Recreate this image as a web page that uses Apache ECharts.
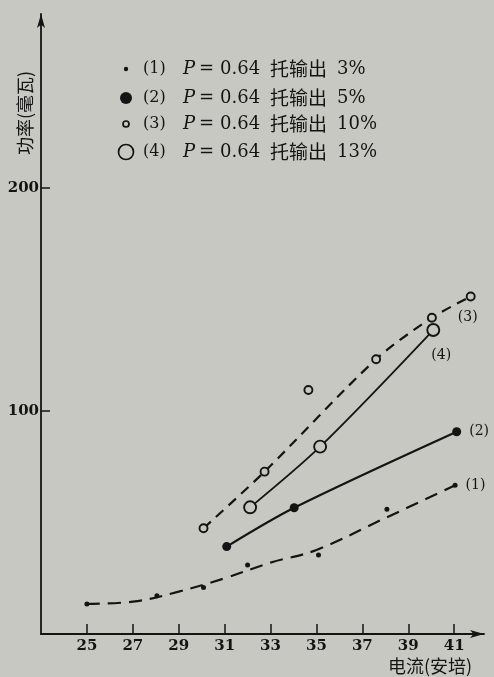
<!DOCTYPE html>
<html><head><meta charset="utf-8">
<script src="https://cdn.jsdelivr.net/npm/echarts@6/dist/echarts.min.js"></script>
<style>html,body{margin:0;padding:0;background:#c8c8c3;}#c{width:494px;height:677px;}</style>
</head><body><div id="c"></div>
<script>
// ---- data ----
const xTicks = [25, 27, 29, 31, 33, 35, 37, 39, 41];
const yTicks = [100, 200];
const xName = '电流(安培)';
const yName = '功率(毫瓦)';
const legendLabels = ['(1)', '(2)', '(3)', '(4)'];
const legendOutputs = ['3%', '5%', '10%', '13%'];

// measured points [current, power]
const pts1 = [[25, 13.5], [28.05, 17.2], [30.08, 20.9], [32.0, 30.9], [35.09, 35.4], [38.07, 55.9], [41.04, 66.7]];
const pts2 = [[31.09, 39.2], [34.03, 56.6], [41.11, 90.7]];
const pts3 = [[30.08, 47.4], [32.74, 72.8], [34.65, 109.4], [37.6, 123.2], [40.03, 141.8], [41.72, 151.3]];
const pts4 = [[32.11, 56.8], [35.16, 84.0], [40.09, 136.3]];

// fitted curves as drawn in the figure
const curve1 = [[25, 13.5], [27, 14.5], [29, 19], [31, 25], [33, 32], [35, 37.7], [38, 52], [41, 66.5]];
const curve2 = [[31.09, 39.2], [34.03, 56.6], [41.11, 90.7]];
const curve3 = [[30.08, 47.4], [32.74, 72.8], [37.6, 123.2], [40.03, 141.8], [41.72, 151.3]];
const curve4 = [[32.11, 56.8], [35.16, 84.0], [40.09, 136.3]];

const BG = '#c8c8c3', INK = '#141414';
const SERIF = '"DejaVu Serif","Liberation Serif",serif';
const CJK = '"Noto Sans CJK SC","DejaVu Serif",serif';

const chart = echarts.init(document.getElementById('c'));

function lastLabel(pts, text, pos, offset) {
  return pts.map((p, i) => i === pts.length - 1
    ? { value: p, label: { show: true, formatter: text, position: pos, offset: offset, color: INK, fontFamily: SERIF, fontSize: 14 } }
    : p);
}

const legendRows = [69, 98, 124, 152];
const legendMarkers = [
  { r: 2.2, fill: INK, stroke: null },
  { r: 6, fill: INK, stroke: null },
  { r: 3, fill: BG, stroke: INK },
  { r: 7.5, fill: BG, stroke: INK }
];
const graphic = [];
function txt(x, y, text, font, extra) {
  graphic.push({ type: 'text', x: x, y: y, style: Object.assign({ text: text, fill: INK, font: font, verticalAlign: 'middle' }, extra || {}) });
}
legendRows.forEach((y, i) => {
  const m = legendMarkers[i];
  graphic.push({ type: 'circle', shape: { cx: 126, cy: y, r: m.r },
    style: { fill: m.fill, stroke: m.stroke, lineWidth: 1.7 } });
  txt(143, y, legendLabels[i], '16px ' + SERIF);
  txt(183, y, 'P', 'italic 18px ' + SERIF);
  txt(199, y, '=', '18px ' + SERIF);
  txt(220, y, '0.64', '18px ' + SERIF);
  txt(270, y, '托输出', '19px ' + CJK);
  txt(337, y, legendOutputs[i], '18px ' + SERIF);
});
graphic.push({ type: 'text', x: 25, y: 113, rotation: Math.PI / 2,
  style: { text: yName, fill: INK, font: '18px ' + CJK, align: 'center', verticalAlign: 'middle' } });
graphic.push({ type: 'text', x: 430, y: 666,
  style: { text: xName, fill: INK, font: '18px ' + CJK, align: 'center', verticalAlign: 'middle' } });

chart.setOption({
  backgroundColor: BG,
  animation: false,
  grid: { left: 41, right: 10, top: 14, bottom: 43 },
  xAxis: {
    type: 'value', min: 23, max: 42.3,
    axisLine: { show: true, lineStyle: { color: INK, width: 1.8 }, symbol: ['none', 'arrow'], symbolSize: [6, 14] },
    axisTick: { show: true, inside: true, length: 10, customValues: xTicks, lineStyle: { color: INK, width: 1.5 } },
    axisLabel: { customValues: xTicks, color: INK, fontFamily: SERIF, fontSize: 15, fontWeight: 'bold', margin: 5 },
    splitLine: { show: false }
  },
  yAxis: {
    type: 'value', min: 0, max: 278,
    axisLine: { show: true, lineStyle: { color: INK, width: 1.8 }, symbol: ['none', 'arrow'], symbolSize: [6, 14] },
    axisTick: { show: true, inside: true, length: 9, customValues: yTicks, lineStyle: { color: INK, width: 1.5 } },
    axisLabel: { customValues: yTicks, color: INK, fontFamily: SERIF, fontSize: 15, fontWeight: 'bold', margin: 2 },
    splitLine: { show: false }
  },
  graphic: graphic,
  series: [
    { type: 'line', data: curve1, smooth: 0.4, showSymbol: false, lineStyle: { color: INK, width: 2.2, type: [13, 8] }, z: 2 },
    { type: 'line', data: curve2, smooth: 0.3, showSymbol: false, lineStyle: { color: INK, width: 2.2 }, z: 2 },
    { type: 'line', data: curve3, smooth: 0.3, showSymbol: false, lineStyle: { color: INK, width: 2.2, type: [10, 7] }, z: 2 },
    { type: 'line', data: curve4, smooth: 0.3, showSymbol: false, lineStyle: { color: INK, width: 1.8 }, z: 2 },
    { type: 'scatter', data: lastLabel(pts1, '(1)', 'right', [3, 0]), symbolSize: 5, itemStyle: { color: INK, opacity: 1 }, z: 3 },
    { type: 'scatter', data: lastLabel(pts2, '(2)', 'right', [3, 0]), symbolSize: 9, itemStyle: { color: INK, opacity: 1 }, z: 3 },
    { type: 'scatter', data: lastLabel(pts3, '(3)', 'bottom', [-3, 4]), symbolSize: 8, itemStyle: { color: BG, borderColor: INK, borderWidth: 1.9, opacity: 1 }, z: 3 },
    { type: 'scatter', data: lastLabel(pts4, '(4)', 'bottom', [8, 6]), symbolSize: 12, itemStyle: { color: BG, borderColor: INK, borderWidth: 1.9, opacity: 1 }, z: 3 }
  ]
});
</script></body></html>
